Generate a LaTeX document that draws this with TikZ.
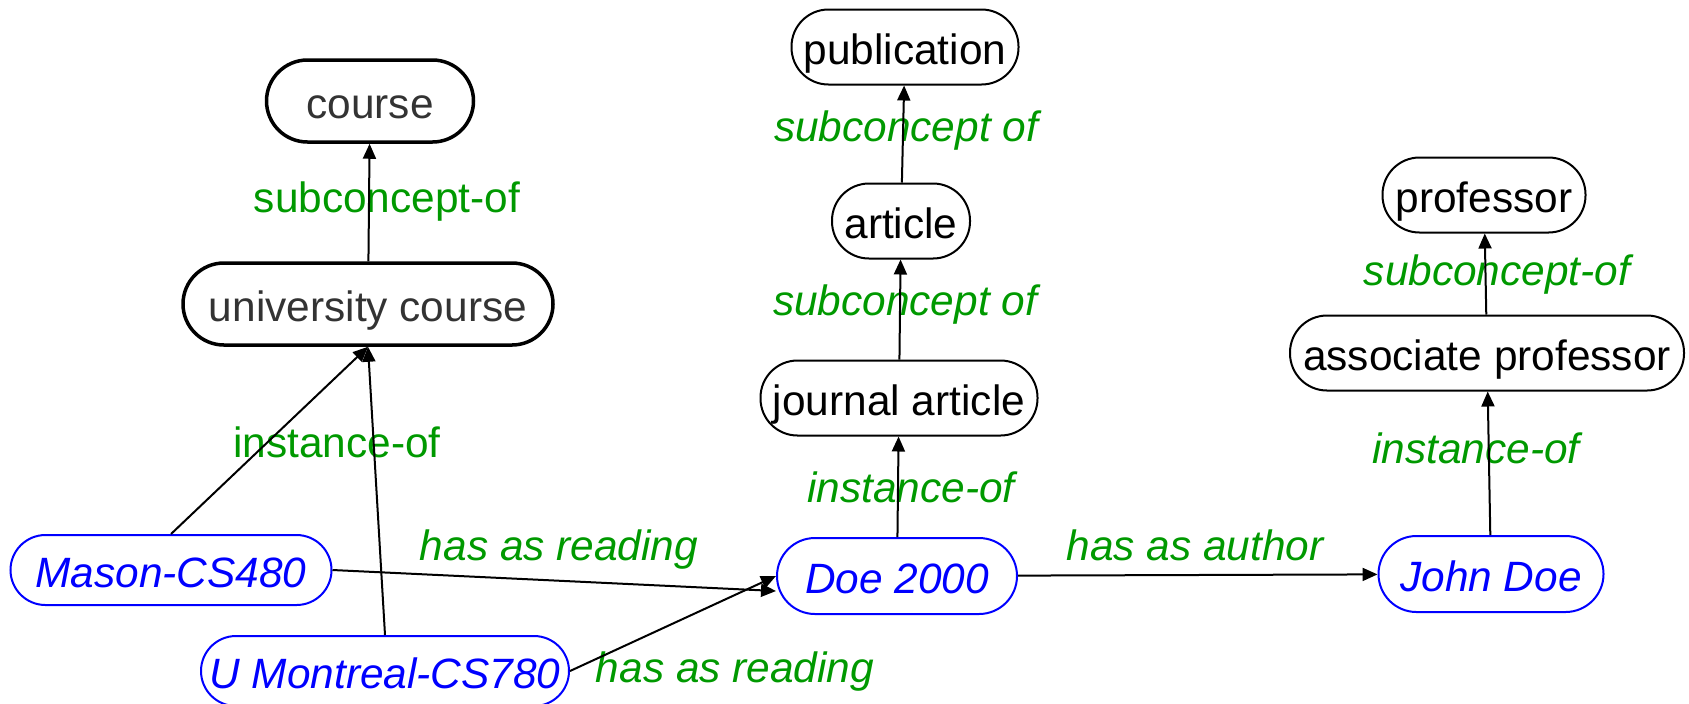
\documentclass[tikz,border=0pt]{standalone}
\usepackage{fontspec}
\setmainfont{Liberation Sans}
\usetikzlibrary{positioning,arrows.meta}

\definecolor{relgreen}{RGB}{0,153,0}
\definecolor{concgray}{RGB}{51,51,51}
\newcommand{\diagfont}{\fontsize{21.2}{25}\selectfont}

\tikzset{
  concept/.style={draw, line width=1pt, rounded corners=18.5pt, inner sep=0pt,
    minimum height=37.5pt, text height=17pt, text depth=0pt},
  topconcept/.style={concept, line width=1.75pt, text=concgray,
    rounded corners=20.5pt, minimum height=41pt},
  instance/.style={concept, draw=blue, text=blue, font=\diagfont\itshape},
  relation/.style={text=relgreen, anchor=base, inner sep=0pt},
  relationit/.style={relation, font=\diagfont\itshape},
  isa/.style={-{Triangle[length=7.5pt,width=6.5pt]}, line width=1pt}
}

\begin{document}
\begin{tikzpicture}[x=0.5pt, y=-0.5pt, font=\diagfont]
    \useasboundingbox (0,0) rectangle (1689,703);

    \node[instance, minimum width=160.5pt, minimum height=35pt, rounded corners=17.5pt] (MasonCS) at (171,570) {Mason-CS480};
    \node[instance, minimum width=184pt, minimum height=35pt, rounded corners=17.5pt] (MontrealCS) at (385,671) {U Montreal-CS780};
    \node[instance, minimum width=120pt, minimum height=38pt, rounded corners=19pt] (Doe) at (897,576) {Doe 2000};
    \node[instance, minimum width=112.5pt, minimum height=38pt, rounded corners=19pt] (JohnDoe) at (1491,574) {John Doe};

    \node[topconcept, minimum width=185pt] (UniCourse) at (368,304) {university course};
    \node[topconcept, minimum width=103.5pt, node distance=101.5pt, above of=UniCourse, xshift=1pt] (Course) {course};

    \node[concept, minimum width=138.5pt, node distance=89pt, above of=Doe, xshift=1pt] (JournalArticle) {journal article};
    \node[concept, minimum width=69pt, node distance=88.5pt, above of=JournalArticle, xshift=1pt] (Article) {article};
    \node[concept, minimum width=113.5pt, node distance=87pt, above of=Article, xshift=2pt] (Publication) {publication};

    \node[concept, minimum width=197pt, node distance=110.5pt, above of=JohnDoe, xshift=-2pt] (AssocProf) {associate professor};
    \node[concept, minimum width=101.5pt, node distance=79pt, above of=AssocProf, xshift=-1.5pt] (Professor) {professor};

    \node[relation] (SubCourse) at (387,212) {subconcept-of};
    \node[relation] (InstCourse) at (337,457) {instance-of};
    \node[relationit] (SubArticle) at (906,141) {subconcept of};
    \node[relationit] (SubJournal) at (905,315) {subconcept of};
    \node[relationit] (InstDoe) at (911,502) {instance-of};
    \node[relationit] (ReadMason) at (559,560) {has as reading};
    \node[relationit] (ReadMontreal) at (735,682) {has as reading};
    \node[relationit] (AuthorOf) at (1195,560) {has as author};
    \node[relationit] (InstJohn) at (1476,463) {instance-of};
    \node[relationit] (SubProf) at (1497,285) {subconcept-of};

    \draw[isa] (UniCourse) -- (Course);
    \draw[isa] (MasonCS.north) -- (UniCourse.south);
    \draw[isa] (MontrealCS.north) -- (UniCourse.south);
    \draw[isa] (MasonCS.east) -- ([yshift=-7.5pt]Doe.west);
    \draw[isa] (MontrealCS.east) -- (Doe.west);
    \draw[isa] (Doe) -- (JournalArticle);
    \draw[isa] (JournalArticle) -- (Article);
    \draw[isa] (Article) -- (Publication);
    \draw[isa] (Doe) -- (JohnDoe);
    \draw[isa] (JohnDoe) -- (AssocProf);
    \draw[isa] (AssocProf) -- (Professor);
\end{tikzpicture}
\end{document}
